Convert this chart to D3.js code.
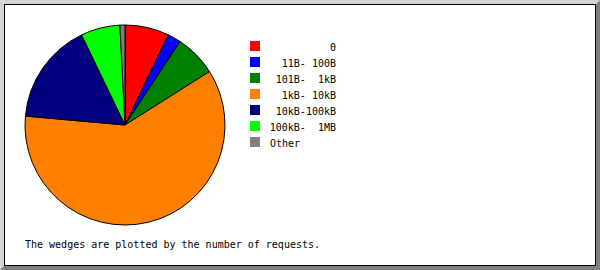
<!DOCTYPE html>
<html>
<head>
<meta charset="utf-8">
<script src="https://cdn.jsdelivr.net/npm/d3@7"></script>
<style>
html,body{margin:0;padding:0;background:#fff;}
svg{display:block;}
text{font-family:"DejaVu Sans Mono",monospace;font-size:10px;white-space:pre;}
</style>
</head>
<body>
<svg id="chart" width="600" height="270"></svg>
<script>
const categories = ["0", "11B- 100B", "101B-  1kB", "1kB- 10kB", "10kB-100kB", "100kB-  1MB", "Other"];
const requests = [714, 214, 675, 6039, 1644, 633, 81];
const colors = ["#ff0000", "#0000ff", "#008000", "#ff8000", "#000080", "#00ff00", "#808080"];
const footnote = "The wedges are plotted by the number of requests.";

const svg = d3.select("#chart");
const W = 600, H = 270;

// bevelled frame
svg.append("rect").attr("x",0).attr("y",0).attr("width",W).attr("height",H).attr("fill","#fff");
svg.append("polygon").attr("points",`0,0 ${W},0 ${W-4},4 4,4 4,${H-4} 0,${H}`).attr("fill","#d4d4d4");
svg.append("polygon").attr("points",`${W},0 ${W},${H} 0,${H} 4,${H-4} ${W-4},${H-4} ${W-4},4`).attr("fill","#808080");
svg.append("rect").attr("x",4.5).attr("y",4.5).attr("width",W-9).attr("height",H-9)
  .attr("fill","#fff").attr("stroke","#000").attr("stroke-width",1);

// pie
const cx = 125, cy = 125, r = 100;
const pie = d3.pie().sort(null).value(d => d.v).startAngle(0).endAngle(2*Math.PI);
const arc = d3.arc().innerRadius(0).outerRadius(r);
const data = categories.map((c,i) => ({c, v: requests[i], col: colors[i]}));
const g = svg.append("g").attr("transform",`translate(${cx},${cy})`);
g.selectAll("path").data(pie(data)).join("path")
  .attr("d", arc)
  .attr("fill", d => d.data.col)
  .attr("stroke", "#000")
  .attr("stroke-width", 1)
  .attr("stroke-linejoin", "round");

// legend
const legendY = d3.scaleBand().domain(categories).range([41, 41 + 16*categories.length]).paddingInner(0);
const lg = svg.append("g");
const rows = lg.selectAll("g").data(data).join("g")
  .attr("transform", d => `translate(250,${legendY(d.c)})`);
rows.append("rect").attr("width",10).attr("height",10).attr("fill", d => d.col);
rows.append("text")
  .attr("x", (d,i) => i === categories.length-1 ? 20 : 86)
  .attr("y", 10)
  .attr("text-anchor", (d,i) => i === categories.length-1 ? "start" : "end")
  .attr("fill","#000")
  .text(d => d.c);

// footnote
svg.append("text").attr("x",25).attr("y",247.5).attr("fill","#000").text(footnote);
</script>
</body>
</html>
